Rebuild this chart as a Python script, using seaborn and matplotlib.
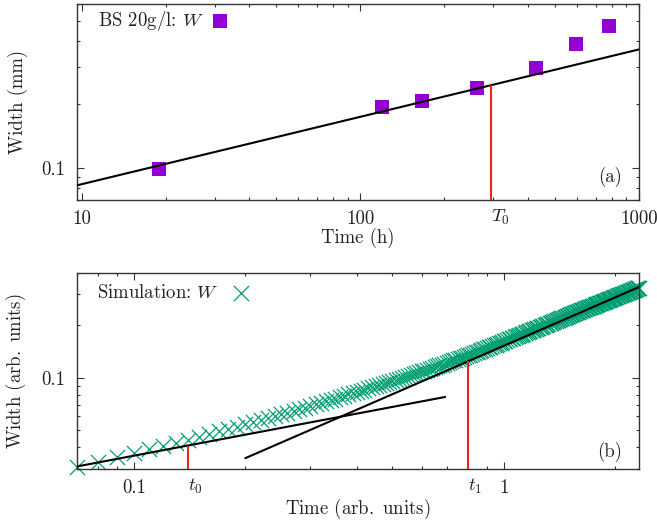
import numpy as np
import pandas as pd
import matplotlib
matplotlib.use('Agg')
import matplotlib.pyplot as plt
import matplotlib.ticker as mticker
import seaborn as sns

# (a) experiment, BS 20 g/l
exp_time = [19, 120, 167, 262, 428, 595, 782]          # h
exp_width = [0.099, 0.195, 0.208, 0.240, 0.299, 0.389, 0.472]  # mm
fit_time = [9.6, 1000]
fit_width = [0.0824, 0.365]
T0 = 295
T0_width = 0.247

# (b) simulation, one output every 0.01 time units from 0.07 to 2.32
sim_time = np.arange(7, 233) / 100
sim_width = [
    0.0310, 0.0331, 0.0352, 0.0371, 0.0390, 0.0408, 0.0425, 0.0442, 0.0459, 0.0476,
    0.0493, 0.0509, 0.0524, 0.0540, 0.0556, 0.0572, 0.0587, 0.0602, 0.0617, 0.0632,
    0.0647, 0.0661, 0.0675, 0.0689, 0.0704, 0.0718, 0.0732, 0.0746, 0.0760, 0.0774,
    0.0788, 0.0802, 0.0815, 0.0828, 0.0841, 0.0855, 0.0868, 0.0880, 0.0893, 0.0906,
    0.0920, 0.0933, 0.0946, 0.0959, 0.0972, 0.0985, 0.0998, 0.1011, 0.1024, 0.1036,
    0.1049, 0.1061, 0.1074, 0.1086, 0.1099, 0.1113, 0.1126, 0.1139, 0.1152, 0.1165,
    0.1178, 0.1191, 0.1204, 0.1217, 0.1230, 0.1243, 0.1256, 0.1268, 0.1281, 0.1294,
    0.1306, 0.1319, 0.1331, 0.1344, 0.1358, 0.1372, 0.1386, 0.1400, 0.1413, 0.1427,
    0.1441, 0.1455, 0.1468, 0.1482, 0.1496, 0.1509, 0.1523, 0.1536, 0.1550, 0.1564,
    0.1577, 0.1591, 0.1604, 0.1617, 0.1631, 0.1644, 0.1658, 0.1671, 0.1684, 0.1698,
    0.1711, 0.1724, 0.1737, 0.1751, 0.1765, 0.1778, 0.1792, 0.1805, 0.1818, 0.1832,
    0.1845, 0.1859, 0.1872, 0.1885, 0.1899, 0.1912, 0.1925, 0.1939, 0.1952, 0.1965,
    0.1978, 0.1992, 0.2005, 0.2018, 0.2031, 0.2044, 0.2058, 0.2071, 0.2084, 0.2097,
    0.2110, 0.2123, 0.2136, 0.2149, 0.2162, 0.2175, 0.2188, 0.2201, 0.2214, 0.2227,
    0.2240, 0.2253, 0.2266, 0.2279, 0.2292, 0.2305, 0.2317, 0.2330, 0.2343, 0.2355,
    0.2368, 0.2381, 0.2393, 0.2406, 0.2419, 0.2431, 0.2444, 0.2456, 0.2469, 0.2482,
    0.2494, 0.2507, 0.2519, 0.2532, 0.2544, 0.2557, 0.2569, 0.2582, 0.2594, 0.2607,
    0.2619, 0.2631, 0.2644, 0.2656, 0.2669, 0.2681, 0.2693, 0.2706, 0.2718, 0.2730,
    0.2743, 0.2755, 0.2767, 0.2780, 0.2792, 0.2804, 0.2816, 0.2829, 0.2841, 0.2853,
    0.2865, 0.2878, 0.2890, 0.2902, 0.2914, 0.2926, 0.2938, 0.2950, 0.2962, 0.2974,
    0.2986, 0.2998, 0.3010, 0.3022, 0.3034, 0.3046, 0.3058, 0.3070, 0.3082, 0.3093,
    0.3105, 0.3117, 0.3129, 0.3141, 0.3153, 0.3165, 0.3176, 0.3188, 0.3200, 0.3212,
    0.3224, 0.3235, 0.3247, 0.3259, 0.3271, 0.3282,
]
early_fit_time = [0.07, 0.694]
early_fit_width = [0.031, 0.0776]
late_fit_time = [0.2, 2.32]
late_fit_width = [0.0346, 0.331]
t0, t0_width = 0.14, 0.0404
t1, t1_width = 0.8, 0.124

sim = pd.DataFrame({'time': sim_time, 'width': sim_width})

# style
sns.set_theme(style='ticks')
FS = 13.5
plt.rcParams.update({
    'font.family': ['cmr10'],
    'mathtext.fontset': 'cm',
    'axes.formatter.use_mathtext': True,
    'font.size': FS,
    'axes.labelsize': FS,
    'xtick.labelsize': FS,
    'ytick.labelsize': FS,
    'legend.fontsize': FS,
    'text.color': '#222222',
    'axes.labelcolor': '#222222',
    'axes.edgecolor': '#333333',
    'axes.linewidth': 1.0,
    'xtick.color': '#333333',
    'ytick.color': '#333333',
    'xtick.labelcolor': '#222222',
    'ytick.labelcolor': '#222222',
    'xtick.direction': 'in',
    'ytick.direction': 'in',
    'xtick.top': True,
    'ytick.right': True,
    'xtick.major.size': 5,
    'ytick.major.size': 5,
    'xtick.minor.size': 2.5,
    'ytick.minor.size': 2.5,
    'xtick.major.width': 0.8,
    'ytick.major.width': 0.8,
    'xtick.minor.width': 0.8,
    'ytick.minor.width': 0.8,
    'xtick.major.pad': 7,
    'ytick.major.pad': 8,
})

RED = '#e8251f'
PURPLE = '#9400d3'
GREEN = '#009e73'

fig = plt.figure(figsize=(6.57, 5.2), dpi=100)
ax1 = fig.add_axes([0.1167, 0.6148, 0.8559, 0.3775])
ax2 = fig.add_axes([0.1167, 0.0981, 0.8559, 0.3775])


def log_axes(ax):
    ax.set_xscale('log')
    ax.set_yscale('log')
    fmt = mticker.FuncFormatter(lambda v, p: f'{v:g}')
    for axis in (ax.xaxis, ax.yaxis):
        axis.set_major_formatter(fmt)
        axis.set_minor_formatter(mticker.NullFormatter())


# --- (a) ---
log_axes(ax1)
sns.scatterplot(x=exp_time, y=exp_width, marker='s', s=112, color=PURPLE,
                linewidth=0, label='BS 20g/l: $W$', ax=ax1, zorder=2)
sns.lineplot(x=fit_time, y=fit_width, color='black', lw=1.5, ax=ax1, zorder=3)
ax1.set_xlim(9.6, 1000)
ax1.set_ylim(0.07, 0.6)
ax1.vlines(T0, ax1.get_ylim()[0], T0_width, color=RED, lw=1.5, zorder=3)
ax1.text(T0, -0.039, '$T_0$', transform=ax1.get_xaxis_transform(), ha='left', va='top')
ax1.text(0.948, 0.12, '(a)', transform=ax1.transAxes, ha='center', va='center')
ax1.set_xlabel('Time (h)')
ax1.set_ylabel('Width (mm)')
ax1.xaxis.set_label_coords(0.5, -0.141)
ax1.yaxis.set_label_coords(-0.086, 0.5)
ax1.legend(loc='center left', bbox_to_anchor=(0.0373, 0.913), frameon=False,
           markerfirst=False, handlelength=1.0, handletextpad=0.37,
           borderpad=0, borderaxespad=0, fontsize=FS)

# --- (b) ---
log_axes(ax2)
sns.scatterplot(data=sim, x='time', y='width', marker='x', s=120, color=GREEN,
                linewidth=0.9, label='Simulation: $W$', ax=ax2, zorder=2, clip_on=False)
sns.lineplot(x=early_fit_time, y=early_fit_width, color='black', lw=1.5, ax=ax2, zorder=3)
sns.lineplot(x=late_fit_time, y=late_fit_width, color='black', lw=1.5, ax=ax2, zorder=3)
ax2.set_xlim(0.07, 2.32)
ax2.set_ylim(0.03, 0.4)
ymin2 = ax2.get_ylim()[0]
ax2.vlines([t0, t1], ymin2, [t0_width, t1_width], color=RED, lw=1.5, zorder=3)
ax2.text(t0, -0.039, '$t_0$', transform=ax2.get_xaxis_transform(), ha='left', va='top')
ax2.text(t1, -0.039, '$t_1$', transform=ax2.get_xaxis_transform(), ha='left', va='top')
ax2.text(0.948, 0.088, '(b)', transform=ax2.transAxes, ha='center', va='center')
ax2.set_xlabel('Time (arb.$\\,$ units)')
ax2.set_ylabel('Width (arb.$\\,$ units)')
ax2.xaxis.set_label_coords(0.5, -0.143)
ax2.yaxis.set_label_coords(-0.086, 0.5)
ax2.legend(loc='center left', bbox_to_anchor=(0.0366, 0.895), frameon=False,
           markerfirst=False, handlelength=1.0, handletextpad=0.66,
           borderpad=0, borderaxespad=0, fontsize=FS)

fig.savefig('out.png', dpi=100)
